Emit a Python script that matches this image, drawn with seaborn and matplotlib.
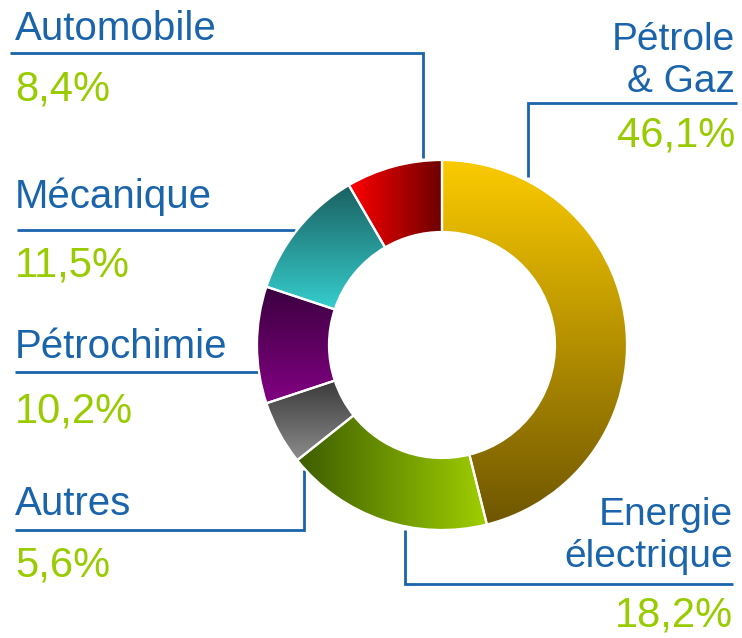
import numpy as np
import matplotlib
matplotlib.use("Agg")
import matplotlib.pyplot as plt
import seaborn as sns

# data
sectors = ["Pétrole\n& Gaz", "Energie\nélectrique", "Autres", "Pétrochimie", "Mécanique", "Automobile"]
shares = [46.1, 18.2, 5.6, 10.2, 11.5, 8.4]
share_labels = ["46,1%", "18,2%", "5,6%", "10,2%", "11,5%", "8,4%"]

# gradient colours per wedge (start, end, direction)
grad_start = ["#fbcb00", "#3d5c00", "#3a3a3a", "#3a003f", "#1a5f5f", "#ff0000"]
grad_end = ["#6f5600", "#9fcf00", "#8c8c8c", "#820082", "#36cdcd", "#6c0000"]
grad_dir = ["v", "h", "v", "v", "v", "h"]

BLUE = "#1a64ab"
GREEN = "#99cc00"

sns.set_style("white")
plt.rcParams["font.family"] = ["Liberation Sans", "DejaVu Sans"]

W, H = 742, 638
fig = plt.figure(figsize=(W / 100, H / 100), dpi=100)
ax = fig.add_axes([0, 0, 1, 1])

def Y(y):
    # pixel row -> data y
    return H - y

cx, cy = 442, Y(345)
wedges, _ = ax.pie(shares, center=(cx, cy), radius=185, startangle=90,
                   counterclock=False,
                   wedgeprops=dict(width=72, edgecolor="white", linewidth=1.6))

for w, c0, c1, d in zip(wedges, grad_start, grad_end, grad_dir):
    cmap = sns.blend_palette([c0, c1], n_colors=256, as_cmap=True)
    bb = w.get_path().get_extents()
    if d == "v":
        g = np.linspace(0, 1, 256).reshape(-1, 1)
    else:
        g = np.linspace(0, 1, 256).reshape(1, -1)
    im = ax.imshow(g, cmap=cmap, extent=(bb.x0, bb.x1, bb.y0, bb.y1),
                   origin="upper", aspect="auto", zorder=1, interpolation="bilinear")
    im.set_clip_path(w)
    w.set_facecolor("none")
    w.set_zorder(3)

def label(x, y, s, color, ha="left", fs=29):
    ax.text(x, Y(y), s, color=color, fontsize=fs, ha=ha, va="baseline",
            multialignment=ha, linespacing=1.2)

lw = 2.0
def line(xs, ys):
    ax.plot(xs, [Y(v) for v in ys], color=BLUE, lw=lw, zorder=2,
            solid_capstyle="butt", solid_joinstyle="miter")

# left side
label(15, 40, "Automobile", BLUE)
label(15, 100, share_labels[5], GREEN, fs=30)
line([10, 423, 423], [53, 53, 158])

label(15, 208, "Mécanique", BLUE)
label(15, 277, share_labels[4], GREEN, fs=30)
line([17, 295], [230, 230])

label(15, 358, "Pétrochimie", BLUE)
label(15, 422, share_labels[3], GREEN, fs=30)
line([15, 258], [372, 372])

label(15, 515, "Autres", BLUE)
label(15, 577, share_labels[2], GREEN, fs=30)
line([15, 304, 304], [530, 530, 470])

# right side
label(735, 92, sectors[0], BLUE, ha="right", fs=28)
label(735, 147, share_labels[0], GREEN, ha="right", fs=30)
line([528, 528, 737], [177, 103, 103])

label(733, 567, sectors[1], BLUE, ha="right", fs=28)
label(733, 627, share_labels[1], GREEN, ha="right", fs=30)
line([405, 405, 733], [530, 584, 584])

ax.set_xlim(0, W)
ax.set_ylim(0, H)
ax.set_axis_off()
fig.savefig("out.png", dpi=100, facecolor="white")
